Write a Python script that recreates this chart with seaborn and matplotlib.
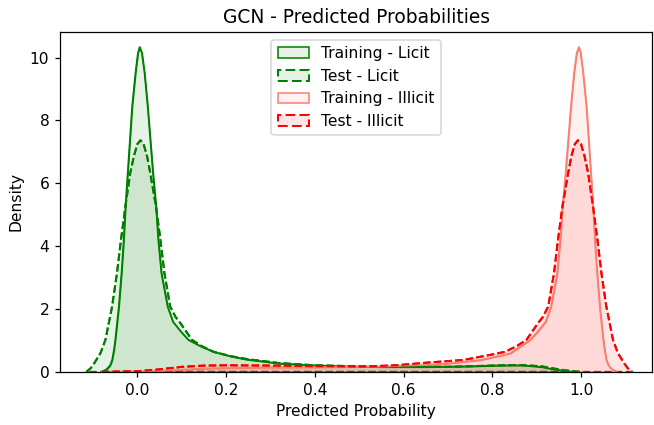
import matplotlib
matplotlib.use("Agg")
import matplotlib.pyplot as plt
from matplotlib.colors import to_rgba
import pandas as pd
import seaborn as sns

# densities
train_licit_x = [-0.081, -0.070, -0.062, -0.057, -0.053, -0.050, -0.046, -0.042, -0.036,
                 -0.031, -0.027, -0.022, -0.017, -0.012, -0.0045, 0.001, 0.005, 0.010,
                 0.016, 0.023, 0.029, 0.035, 0.042, 0.047, 0.054, 0.068, 0.080, 0.097,
                 0.115, 0.145, 0.175, 0.210, 0.245, 0.320, 0.400, 0.460, 0.550, 0.650,
                 0.750, 0.820, 0.870, 0.910, 0.940, 0.970, 0.990]
train_licit_y = [0.0, 0.08, 0.20, 0.38, 0.70, 1.02, 1.55, 2.08, 3.14,
                 4.20, 5.26, 6.33, 7.39, 8.45, 9.51, 10.15, 10.34, 10.15,
                 9.51, 8.45, 7.39, 6.33, 5.26, 4.20, 3.14, 2.08, 1.60, 1.30,
                 1.02, 0.80, 0.63, 0.50, 0.40, 0.27, 0.21, 0.18, 0.16, 0.16,
                 0.18, 0.21, 0.21, 0.16, 0.08, 0.02, 0.0]

test_licit_x = [-0.115, -0.105, -0.097, -0.083, -0.072, -0.057, -0.046, -0.037, -0.027,
                -0.016, -0.008, 0.000, 0.007, 0.014, 0.022, 0.029, 0.042, 0.052,
                0.061, 0.074, 0.086, 0.097, 0.123, 0.145, 0.171, 0.210, 0.250,
                0.320, 0.400, 0.550, 0.700, 0.800, 0.860, 0.910, 0.950, 0.980, 1.000]
test_licit_y = [0.0, 0.12, 0.28, 0.60, 1.02, 2.08, 3.14, 4.20, 5.26,
                6.33, 6.86, 7.25, 7.37, 7.25, 6.86, 6.33, 5.26, 4.20,
                3.14, 2.08, 1.75, 1.55, 1.02, 0.82, 0.64, 0.50, 0.40,
                0.28, 0.21, 0.16, 0.16, 0.20, 0.22, 0.18, 0.08, 0.02, 0.0]

train_illicit_x = [-0.080, -0.020, 0.050, 0.100, 0.150, 0.250, 0.400, 0.550, 0.650,
                   0.700, 0.773, 0.840, 0.885, 0.903, 0.920, 0.932, 0.946, 0.953,
                   0.958, 0.965, 0.971, 0.977, 0.984, 0.990, 0.995, 0.999, 1.0045,
                   1.012, 1.017, 1.022, 1.027, 1.031, 1.036, 1.042, 1.046, 1.050,
                   1.053, 1.057, 1.062, 1.070, 1.081]
train_illicit_y = [0.0, 0.0, 0.03, 0.07, 0.11, 0.14, 0.15, 0.17, 0.22,
                   0.27, 0.38, 0.59, 1.02, 1.30, 1.60, 2.08, 3.14, 4.20,
                   5.26, 6.33, 7.39, 8.45, 9.51, 10.15, 10.34, 10.15, 9.51,
                   8.45, 7.39, 6.33, 5.26, 4.20, 3.14, 2.08, 1.55, 1.02,
                   0.70, 0.38, 0.20, 0.08, 0.0]

test_illicit_x = [-0.080, 0.000, 0.050, 0.100, 0.150, 0.200, 0.300, 0.400, 0.510,
                  0.583, 0.658, 0.735, 0.795, 0.829, 0.855, 0.877, 0.903, 0.914,
                  0.926, 0.939, 0.948, 0.958, 0.971, 0.978, 0.986, 0.993, 1.000,
                  1.008, 1.016, 1.027, 1.037, 1.046, 1.057, 1.072, 1.083, 1.097,
                  1.105, 1.115]
test_illicit_y = [0.0, 0.02, 0.08, 0.16, 0.20, 0.21, 0.20, 0.18, 0.17,
                  0.21, 0.30, 0.38, 0.54, 0.64, 0.82, 1.02, 1.55, 1.75,
                  2.08, 3.14, 4.20, 5.26, 6.33, 6.86, 7.25, 7.37, 7.25,
                  6.86, 6.33, 5.26, 4.20, 3.14, 2.08, 1.02, 0.60, 0.28,
                  0.12, 0.0]

curves = [
    ("Training - Licit", train_licit_x, train_licit_y, "green", "-", 1.0),
    ("Test - Licit", test_licit_x, test_licit_y, "green", "--", 1.3),
    ("Training - Illicit", train_illicit_x, train_illicit_y, "salmon", "-", 1.0),
    ("Test - Illicit", test_illicit_x, test_illicit_y, "red", "--", 1.3),
]

fig, ax = plt.subplots(figsize=(654 / 112, 425 / 112), dpi=112)

handles = []
for label, xs, ys, color, ls, lw in curves:
    df = pd.DataFrame({"x": xs, "y": ys})
    h = ax.fill_between(df["x"], df["y"], facecolor=to_rgba(color, 0.1),
                        edgecolor=color, linestyle=ls, linewidth=lw, label=label)
    sns.lineplot(data=df, x="x", y="y", color=color, linestyle=ls, linewidth=lw,
                 estimator=None, sort=False, legend=False, ax=ax)
    handles.append(h)

ax.set_xlim(-0.174, 1.16)
ax.set_ylim(0, 10.82)
ax.set_title("GCN - Predicted Probabilities")
ax.set_xlabel("Predicted Probability")
ax.set_ylabel("Density")
ax.legend(handles=handles, loc="upper center")

plt.subplots_adjust(left=0.092, right=0.997, bottom=0.125, top=0.925)
plt.savefig("out.png", dpi=112)
